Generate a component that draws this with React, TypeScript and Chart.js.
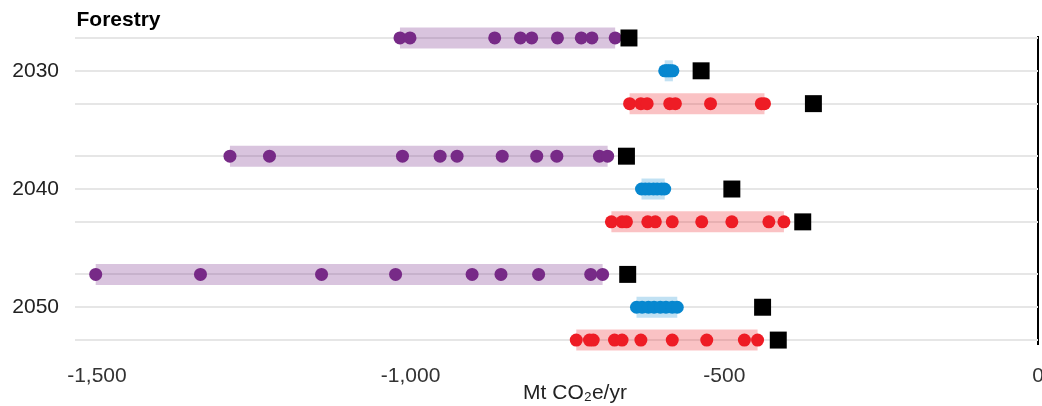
import React, { useEffect, useRef } from 'react';
import { Chart, registerables } from 'chart.js';

Chart.register(...registerables);

// Row positions on the (reversed) vertical axis: three groups of three rows
const ROW_POS = [0, 1, 2, 3.6, 4.6, 5.6, 7.2, 8.2, 9.2];
const ROW_LABELS = ['', '2030', '', '', '2040', '', '', '2050', ''];
const X_TICKS = [-1500, -1000, -500, 0];

const TITLE = 'Forestry';
const X_TITLE = 'Mt CO₂e/yr';

// Values (Mt CO2e/yr)
const purple2030 = [-1017, -1001, -866, -825, -807, -766, -728, -711, -674];
const blue2030 = [-595, -592, -589, -586, -582];
const red2030 = [-651, -633, -623, -587, -578, -522, -441, -436];
const purple2040 = [-1288, -1225, -1013, -953, -926, -854, -799, -767, -699, -686];
const blue2040 = [-632, -626, -620, -613, -607, -600, -595];
const red2040 = [-680, -663, -656, -622, -610, -583, -536, -488, -429, -405];
const purple2050 = [-1502, -1335, -1142, -1024, -902, -856, -796, -713, -694];
const blue2050 = [-640, -631, -621, -612, -602, -593, -583, -575];
const red2050 = [-736, -715, -709, -675, -663, -633, -583, -528, -468, -447];
const squares = [-652, -537, -358, -656, -488, -375, -654, -439, -414];

const PURPLE = '#772a87';
const BLUE = '#0787cf';
const RED = '#ee1c25';
const PURPLE_BAND = 'rgba(119,42,135,0.28)';
const BLUE_BAND = 'rgba(7,135,207,0.25)';
const RED_BAND = 'rgba(238,28,37,0.27)';

const FONT = '"Liberation Sans", Arial, sans-serif';

export default function App() {
  const ref = useRef<HTMLCanvasElement | null>(null);

  useEffect(() => {
    document.body.style.margin = '0';
    const canvas = ref.current;
    if (!canvas) return;

    const rows = [
      { vals: purple2030, c: PURPLE, b: PURPLE_BAND },
      { vals: blue2030, c: BLUE, b: BLUE_BAND },
      { vals: red2030, c: RED, b: RED_BAND },
      { vals: purple2040, c: PURPLE, b: PURPLE_BAND },
      { vals: blue2040, c: BLUE, b: BLUE_BAND },
      { vals: red2040, c: RED, b: RED_BAND },
      { vals: purple2050, c: PURPLE, b: PURPLE_BAND },
      { vals: blue2050, c: BLUE, b: BLUE_BAND },
      { vals: red2050, c: RED, b: RED_BAND },
    ];

    const datasets: any[] = [];
    datasets.push({
      label: 'squares',
      data: squares.map((v, i) => ({ x: v, y: ROW_POS[i] })),
      pointStyle: 'rect',
      pointRadius: 12,
      pointHoverRadius: 12,
      backgroundColor: '#000',
      borderWidth: 0,
      clip: false,
      order: 0,
    });
    rows.forEach((r, i) => {
      datasets.push({
        label: 'dots' + i,
        data: r.vals.map((v) => ({ x: v, y: ROW_POS[i] })),
        pointRadius: 6.5,
        pointHoverRadius: 6.5,
        backgroundColor: r.c,
        borderWidth: 0,
        clip: false,
        order: 1,
      });
    });
    rows.forEach((r, i) => {
      const mn = Math.min(...r.vals);
      const mx = Math.max(...r.vals);
      datasets.push({
        label: 'band' + i,
        data: [
          { x: mn, y: ROW_POS[i] },
          { x: mx, y: ROW_POS[i] },
        ],
        showLine: true,
        borderColor: r.b,
        borderWidth: 21,
        borderCapStyle: 'butt',
        pointRadius: 0,
        pointHoverRadius: 0,
        clip: false,
        order: 2,
      });
    });

    const textPlugin = {
      id: 'texts',
      afterDraw(chart: any) {
        const ctx = chart.ctx;
        const area = chart.chartArea;
        ctx.save();
        ctx.fillStyle = '#000';
        ctx.font = `bold 21px ${FONT}`;
        ctx.textAlign = 'left';
        ctx.textBaseline = 'alphabetic';
        ctx.fillText(TITLE, area.left + 1.5, 25.5);
        ctx.fillStyle = '#222';
        ctx.font = `21px ${FONT}`;
        ctx.textAlign = 'center';
        ctx.fillText(X_TITLE, 575, 399);
        ctx.restore();
      },
    };

    const chart = new Chart(canvas, {
      type: 'scatter',
      data: { datasets },
      options: {
        animation: false,
        responsive: false,
        devicePixelRatio: 1,
        layout: { padding: { top: 36, right: 12, left: 0, bottom: 0 } },
        plugins: { legend: { display: false }, tooltip: { enabled: false }, title: { display: false } },
        scales: {
          x: {
            type: 'linear',
            min: -1535,
            max: 0,
            afterBuildTicks: (s: any) => {
              s.ticks = X_TICKS.map((v) => ({ value: v }));
            },
            afterFit: (s: any) => {
              s.height = 61;
            },
            ticks: {
              callback: (v: any) => Number(v).toLocaleString('en-US'),
              font: { size: 21, family: FONT, lineHeight: 62 / 21 },
              color: '#333',
              padding: 0,
              maxRotation: 0,
              autoSkip: false,
            },
            grid: {
              color: (ctx: any) => (ctx.tick && ctx.tick.value === 0 ? '#000' : 'rgba(0,0,0,0)'),
              lineWidth: 2,
              drawTicks: false,
            },
            border: { display: false },
          },
          y: {
            type: 'linear',
            reverse: true,
            min: -0.06,
            max: 9.35,
            afterBuildTicks: (s: any) => {
              s.ticks = ROW_POS.map((v) => ({ value: v }));
            },
            afterFit: (s: any) => {
              s.width = 75;
            },
            ticks: {
              callback: (_v: any, i: number) => ROW_LABELS[i],
              font: { size: 21, family: FONT },
              color: '#222',
              padding: 16,
              autoSkip: false,
            },
            grid: {
              color: '#e6e6e6',
              lineWidth: 2,
              drawTicks: false,
            },
            border: { display: false },
          },
        },
      },
      plugins: [textPlugin],
    });

    return () => chart.destroy();
  }, []);

  return (
    <div style={{ position: 'absolute', left: 0, top: 0, width: 1042, height: 406, overflow: 'hidden' }}>
      <canvas ref={ref} width={1050} height={406} style={{ width: 1050, height: 406, display: 'block' }} />
    </div>
  );
}
